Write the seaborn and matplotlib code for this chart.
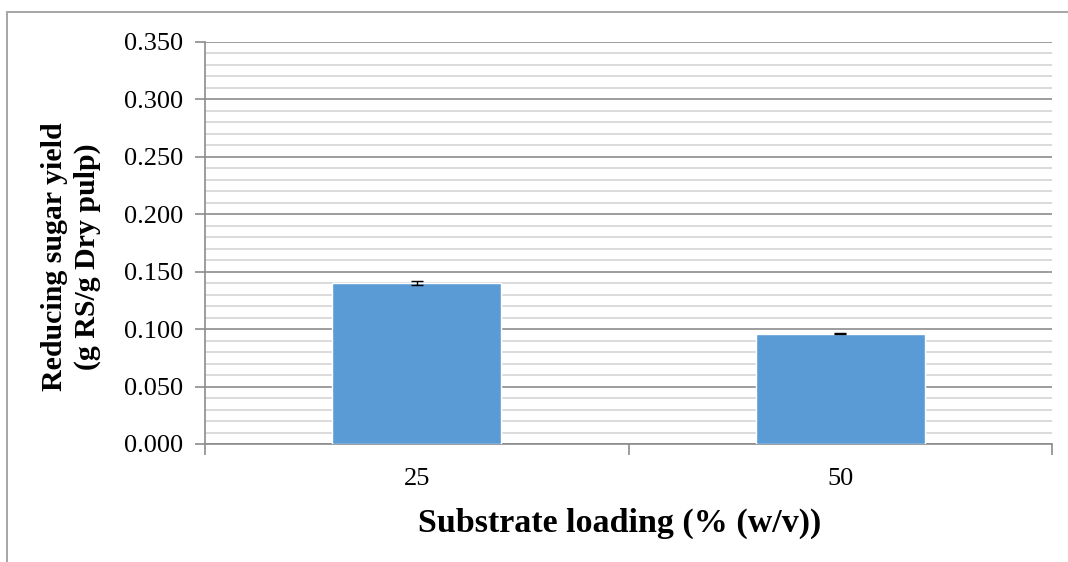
import matplotlib
matplotlib.use("Agg")
import matplotlib.pyplot as plt
from matplotlib.lines import Line2D
from matplotlib.ticker import MultipleLocator, FixedLocator, FormatStrFormatter
import seaborn as sns
import pandas as pd

# Reducing sugar yield by substrate loading
loadings = ["25", "50"]
yields = [0.140, 0.096]
yield_err = [0.0015, 0.0005]

sns.set_theme(style="white")
plt.rcParams["font.family"] = ["Liberation Serif", "DejaVu Serif"]

df = pd.DataFrame({"loading": loadings, "yield": yields})

W, H = 1068, 562
fig = plt.figure(figsize=(W / 100, H / 100), dpi=100)
ax = fig.add_axes([205 / W, 1 - 444 / H, (1052 - 205) / W, (444 - 42) / H])

sns.barplot(data=df, x="loading", y="yield", color="#5B9BD5", saturation=1,
            width=0.4, errorbar=None, ax=ax, zorder=3)
ax.errorbar(x=list(range(len(loadings))), y=yields, yerr=yield_err, fmt="none",
            ecolor="black", elinewidth=1.0, capsize=4, capthick=1.0, zorder=4)

ax.set_xlim(-0.5, len(loadings) - 0.5)
ax.set_ylim(0, 0.35)

# Gridlines: major every 0.05, minor every 0.01
ax.yaxis.set_major_locator(MultipleLocator(0.05))
ax.yaxis.set_minor_locator(MultipleLocator(0.01))
ax.grid(which="major", axis="y", color="#8C8C8C", linewidth=1.2, zorder=1)
ax.grid(which="minor", axis="y", color="#D4D4D4", linewidth=1.2, zorder=0)
ax.grid(which="both", axis="x", visible=False)
ax.set_axisbelow(True)
ax.yaxis.set_major_formatter(FormatStrFormatter("%.3f"))

# Category boundaries as outward tick marks on the x axis
ax.xaxis.set_minor_locator(FixedLocator([-0.5, 0.5, 1.5]))
ax.tick_params(axis="x", which="major", length=0, labelsize=19, pad=17, colors="black")
ax.tick_params(axis="x", which="minor", length=8, width=1.2, color="#8C8C8C",
               direction="out", bottom=True)
ax.tick_params(axis="y", which="major", length=7, width=1.2, color="#8C8C8C",
               direction="out", left=True, labelsize=19, pad=9, labelcolor="black")
ax.tick_params(axis="y", which="minor", length=0)

for side in ["top", "right"]:
    ax.spines[side].set_visible(False)
for side in ["left", "bottom"]:
    ax.spines[side].set_color("#8C8C8C")
    ax.spines[side].set_linewidth(1.2)

ax.set_xlabel("Substrate loading (% (w/v))", fontsize=24.5, fontweight="bold",
              labelpad=13, color="black")
ax.xaxis.label.set_x((620 - 205) / (1052 - 205))
ax.set_ylabel("")
fig.text(71 / W, 1 - 257 / H, "Reducing sugar yield\n(g RS/g Dry pulp)",
         rotation=90, ha="center", va="center", fontsize=21.5,
         fontweight="bold", color="black", linespacing=1.25)

# Chart area frame
fig.add_artist(Line2D([7 / W, 1.0], [1 - 12 / H, 1 - 12 / H],
                      transform=fig.transFigure, color="#A6A6A6", linewidth=1.4))
fig.add_artist(Line2D([7 / W, 7 / W], [1 - 12 / H, 0.0],
                      transform=fig.transFigure, color="#A6A6A6", linewidth=1.4))

fig.savefig("out.png", dpi=100)
